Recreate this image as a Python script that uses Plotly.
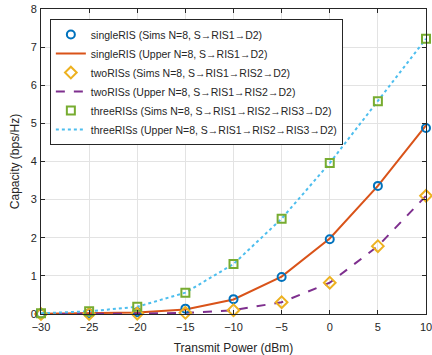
import plotly.graph_objects as go

power_dbm = [-30, -25, -20, -15, -10, -5, 0, 5, 10]

single_sims = [0.004, 0.013, 0.045, 0.14, 0.39, 0.97, 1.96, 3.36, 4.88]
single_upper = [0.004, 0.013, 0.04, 0.12, 0.38, 0.98, 1.98, 3.36, 4.95]
two_sims = [0.0, 0.002, 0.01, 0.03, 0.10, 0.31, 0.82, 1.78, 3.1]
two_upper = [0.0, 0.002, 0.01, 0.03, 0.10, 0.31, 0.82, 1.78, 3.1]
three_sims = [0.02, 0.07, 0.19, 0.56, 1.31, 2.50, 3.96, 5.58, 7.22]
three_upper = [0.02, 0.07, 0.19, 0.56, 1.31, 2.50, 3.96, 5.58, 7.22]

names = [
    "singleRIS (Sims N=8, S\u2192RIS1\u2192D2)",
    "singleRIS (Upper N=8, S\u2192RIS1\u2192D2)",
    "twoRISs (Sims N=8, S\u2192RIS1\u2192RIS2\u2192D2)",
    "twoRISs (Upper N=8, S\u2192RIS1\u2192RIS2\u2192D2)",
    "threeRISs (Sims N=8, S\u2192RIS1\u2192RIS2\u2192RIS3\u2192D2)",
    "threeRISs (Upper N=8, S\u2192RIS1\u2192RIS2\u2192RIS3\u2192D2)",
]

FONT = "Liberation Sans, Arial, sans-serif"

fig = go.Figure()
fig.add_trace(go.Scatter(x=power_dbm, y=single_upper, mode="lines", name=names[1],
                         line=dict(color="#D95319", width=2), legendrank=2, cliponaxis=False))
fig.add_trace(go.Scatter(x=power_dbm, y=two_upper, mode="lines", name=names[3],
                         line=dict(color="#7E2F8E", width=2, dash="dash"), legendrank=4,
                         cliponaxis=False))
fig.add_trace(go.Scatter(x=power_dbm, y=three_upper, mode="lines", name=names[5],
                         line=dict(color="#4DBEEE", width=2, dash="dot"), legendrank=6,
                         cliponaxis=False))
fig.add_trace(go.Scatter(x=power_dbm, y=single_sims, mode="markers", name=names[0],
                         marker=dict(symbol="circle-open", color="#0072BD", size=8,
                                     line=dict(width=2, color="#0072BD")), legendrank=1,
                         cliponaxis=False))
fig.add_trace(go.Scatter(x=power_dbm, y=two_sims, mode="markers", name=names[2],
                         marker=dict(symbol="diamond-open", color="#EDB120", size=9,
                                     line=dict(width=2, color="#EDB120")), legendrank=3,
                         cliponaxis=False))
fig.add_trace(go.Scatter(x=power_dbm, y=three_sims, mode="markers", name=names[4],
                         marker=dict(symbol="square-open", color="#77AC30", size=8,
                                     line=dict(width=2, color="#77AC30")), legendrank=5,
                         cliponaxis=False))

axis_common = dict(
    showline=True, linecolor="#262626", linewidth=1, mirror="ticks",
    ticks="inside", ticklen=4, tickcolor="#262626",
    showgrid=True, gridcolor="#E3E3E3", gridwidth=1, zeroline=False,
    automargin=False, ticklabeloverflow="allow",
    tickfont=dict(family=FONT, size=11, color="#262626"),
)

fig.update_xaxes(range=[-30, 10], tickvals=[-30, -25, -20, -15, -10, -5, 0, 5, 10],
                 ticklabelstandoff=3,
                 title=dict(text="Transmit Power (dBm)", standoff=11,
                            font=dict(family=FONT, size=12, color="#262626")),
                 **axis_common)
fig.update_yaxes(range=[0, 8], tickvals=list(range(0, 9)),
                 ticklabelstandoff=1,
                 title=dict(text="Capacity (bps/Hz)", standoff=8,
                            font=dict(family=FONT, size=12, color="#262626")),
                 **axis_common)

fig.update_layout(
    width=432, height=355,
    margin=dict(l=41, r=6, t=9, b=41, autoexpand=False),
    plot_bgcolor="white", paper_bgcolor="white",
    font=dict(family=FONT, color="#262626"),
    legend=dict(x=0.023, y=0.967, xanchor="left", yanchor="top",
                bgcolor="white", bordercolor="#262626", borderwidth=1,
                font=dict(family=FONT, size=10.5, color="#262626"),
                tracegroupgap=0, itemwidth=30),
    showlegend=True,
)

fig.write_html("out.html", config={"displayModeBar": False},
               post_script="document.body.style.margin='0';document.body.style.overflow='hidden';")
